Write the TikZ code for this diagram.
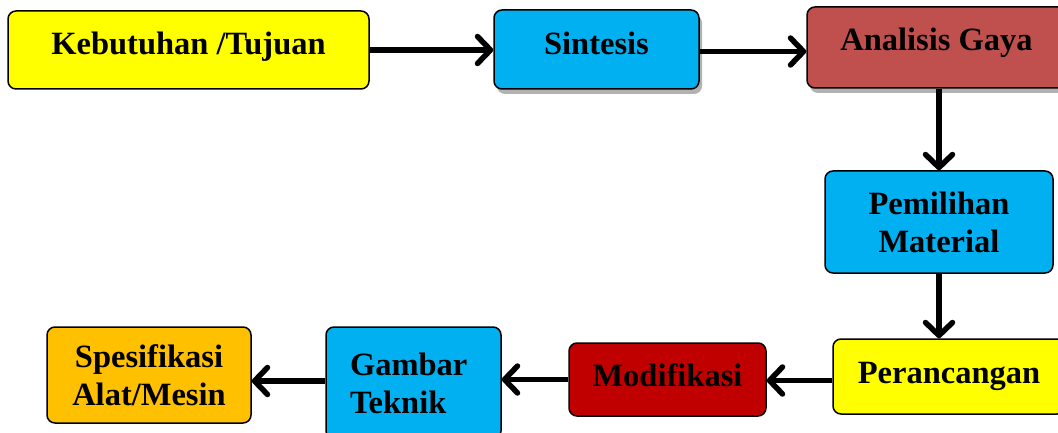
\documentclass[tikz,border=0pt]{standalone}
\usepackage{fontspec}
\setmainfont{Liberation Serif}
\usetikzlibrary{arrows.meta,shadows,calc}
\definecolor{cyellow}{HTML}{FFFF00}
\definecolor{ccyan}{HTML}{00B0F0}
\definecolor{crose}{HTML}{C0504D}
\definecolor{cdred}{HTML}{C00000}
\definecolor{corange}{HTML}{FFC000}
\tikzset{
  box/.style={draw=black, line width=1.5pt, rounded corners=8pt, inner sep=0pt,
    align=center, font=\fontsize{32.5}{38}\selectfont\bfseries},
  shad/.style={drop shadow={shadow xshift=3pt, shadow yshift=-5pt, fill=black, opacity=0.3}},
  flow/.style={line width=5.5pt, -{Straight Barb[length=13pt,width=27pt,line cap=round,line join=round]}}
}
\begin{document}
\begin{tikzpicture}[x=1pt,y=-1pt]
\useasboundingbox (0,0) rectangle (1058,433);
\clip (0,0) rectangle (1058,433);
\node[box, fill=cyellow, minimum width=361pt, minimum height=78pt, text height=22pt, text depth=12pt] (keb) at (188.5,50) {Kebutuhan /Tujuan};
\node[box, shad, fill=ccyan, minimum width=205pt, minimum height=79pt, text height=22pt, text depth=11pt] (sin) at (596.5,49.5) {Sintesis};
\node[box, shad, fill=crose, minimum width=259pt, minimum height=81pt, text height=22pt, text depth=16pt] (ana) at (936.5,47.5) {Analisis Gaya};
\node[box, fill=ccyan, minimum width=228pt, minimum height=102pt] (pem) at (939,222) {Pemilihan\\Material};
\node[box, fill=cyellow, minimum width=232pt, minimum height=75pt, text height=22pt, text depth=9pt] (per) at (949,376.5) {Perancangan};
\node[box, fill=cdred, minimum width=197pt, minimum height=73pt, text height=22pt, text depth=9pt] (mod) at (667.5,379.5) {Modifikasi};
\node[box, fill=ccyan, minimum width=175pt, minimum height=112pt, align=left, text width=127pt, inner xsep=24pt] (gam) at (413.5,383) {Gambar\\Teknik};
\node[box, fill=corange, minimum width=204pt, minimum height=96pt] (spe) at (149,375) {Spesifikasi\\Alat/Mesin};
\draw[flow] (keb.east) -- (keb.east -| sin.west);
\draw[flow] ($(sin.east)+(0,2)$) -- ($(sin.east -| ana.west)+(0,2)$);
\draw[flow] (pem.north |- ana.south) -- (pem.north);
\draw[flow] (pem.south) -- (pem.south |- per.north);
\draw[flow] ($(per.west)+(0,4)$) -- ($(per.west -| mod.east)+(0,4)$);
\draw[flow] (mod.west) -- (mod.west -| gam.east);
\draw[flow] ($(gam.west)+(0,-2)$) -- ($(gam.west -| spe.east)+(0,-2)$);
\end{tikzpicture}
\end{document}
